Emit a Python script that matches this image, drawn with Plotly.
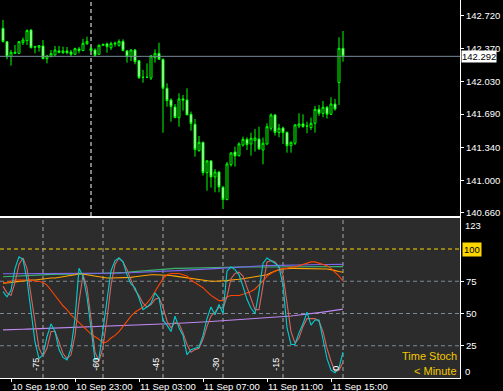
import plotly.graph_objects as go

# ---------------- data ----------------
bars = list(range(86))  # M15 bars, last bar = 11 Sep 15:45

opens = [142.584, 142.445, 142.289, 142.323, 142.323, 142.434, 142.455, 142.566, 142.386, 142.386,
         142.400, 142.268, 142.289, 142.306, 142.348, 142.330, 142.348, 142.337, 142.313, 142.368,
         142.351, 142.424, 142.375, 142.358, 142.313, 142.407, 142.421, 142.382, 142.421, 142.407,
         142.448, 142.348, 142.289, 142.358, 142.247, 142.073, 142.073, 142.066, 142.278, 142.323,
         142.261, 141.959, 141.837, 141.764, 141.653, 141.848, 141.837, 141.688, 141.584, 141.309,
         141.396, 141.080, 141.202, 141.035, 141.087, 140.927, 140.799, 141.163, 141.295, 141.257,
         141.368, 141.427, 141.379, 141.413, 141.431, 141.316, 141.379, 141.542, 141.681, 141.497,
         141.545, 141.500, 141.361, 141.386, 141.566, 141.587, 141.566, 141.549, 141.594, 141.740,
         141.698, 141.761, 141.688, 141.795, 142.018, 142.375]
highs = [142.671, 142.452, 142.358, 142.410, 142.452, 142.487, 142.573, 142.573, 142.400, 142.410,
         142.462, 142.306, 142.358, 142.400, 142.400, 142.393, 142.389, 142.358, 142.382, 142.389,
         142.473, 142.497, 142.393, 142.375, 142.417, 142.421, 142.434, 142.445, 142.445, 142.469,
         142.469, 142.358, 142.365, 142.368, 142.254, 142.150, 142.219, 142.306, 142.365, 142.434,
         142.268, 142.011, 141.854, 141.795, 141.907, 141.889, 141.959, 141.716, 141.639, 141.462,
         141.403, 141.212, 141.212, 141.118, 141.094, 140.941, 141.191, 141.295, 141.351, 141.396,
         141.455, 141.448, 141.497, 141.535, 141.559, 141.445, 141.594, 141.698, 141.691, 141.587,
         141.559, 141.507, 141.403, 141.587, 141.698, 141.688, 141.611, 141.653, 141.775, 141.785,
         141.827, 141.775, 141.865, 141.848, 142.490, 142.556]
lows = [142.438, 142.261, 142.195, 142.316, 142.316, 142.410, 142.410, 142.375, 142.323, 142.341,
        142.261, 142.219, 142.282, 142.299, 142.323, 142.316, 142.313, 142.289, 142.306, 142.323,
        142.348, 142.410, 142.351, 142.289, 142.306, 142.400, 142.330, 142.358, 142.393, 142.393,
        142.348, 142.226, 142.243, 142.209, 142.056, 142.018, 142.066, 142.045, 142.226, 142.254,
        141.497, 141.768, 141.611, 141.653, 141.559, 141.726, 141.681, 141.518, 141.247, 141.299,
        141.049, 140.892, 140.924, 140.875, 140.875, 140.701, 140.792, 141.143, 141.143, 141.247,
        141.351, 141.316, 141.257, 141.299, 141.316, 141.167, 141.368, 141.518, 141.466, 141.448,
        141.379, 141.288, 141.288, 141.368, 141.542, 141.549, 141.490, 141.524, 141.497, 141.671,
        141.657, 141.643, 141.681, 141.726, 141.785, 142.236]
closes = [142.445, 142.289, 142.334, 142.334, 142.445, 142.462, 142.560, 142.382, 142.393, 142.403,
          142.268, 142.296, 142.320, 142.358, 142.334, 142.348, 142.330, 142.313, 142.372, 142.351,
          142.428, 142.448, 142.351, 142.302, 142.407, 142.417, 142.393, 142.424, 142.428, 142.448,
          142.351, 142.289, 142.358, 142.236, 142.070, 142.073, 142.073, 142.296, 142.323, 142.261,
          141.959, 141.830, 141.768, 141.653, 141.848, 141.837, 141.681, 141.591, 141.320, 141.396,
          141.080, 141.202, 141.035, 141.087, 140.931, 140.799, 141.170, 141.285, 141.254, 141.379,
          141.427, 141.372, 141.438, 141.441, 141.327, 141.386, 141.559, 141.681, 141.500, 141.542,
          141.497, 141.361, 141.396, 141.577, 141.587, 141.559, 141.566, 141.594, 141.740, 141.698,
          141.761, 141.688, 141.795, 141.743, 142.375, 142.292]

stoch_fast = [67, 63, 68, 85, 94, 92, 76, 52, 28, 15, 18, 32, 42, 36, 22, 16, 14, 23, 46, 85,
              79, 63, 37, 14, 15, 37, 63, 83, 91, 93,
              90, 80, 73, 70, 62, 53, 55, 58, 66, 62, 45, 41, 36, 48, 39, 33, 18, 22, 23, 24,
              33, 46, 55, 49, 57, 50, 83, 86,
              84, 80, 71, 61, 54, 50, 67, 89, 93, 91, 89, 86, 72, 39, 26, 26, 35, 42, 51, 41,
              45, 45, 31, 15, 6, 4, 8, 20]
stoch_slow = [71, 66, 64, 74, 88, 93, 85, 64, 41, 23, 17, 23, 36, 36, 28, 19, 15, 18, 33, 59,
              80, 70, 46, 20, 13, 24, 46, 72, 88, 93,
              90, 84, 76, 68, 64, 58, 55, 57, 61, 62, 55, 44, 39, 43, 42, 35, 26, 20, 22, 23,
              30, 40, 48, 51, 55, 54, 63, 77,
              81, 82, 79, 70, 61, 53, 53, 72, 90, 91, 90, 86, 80, 58, 36, 27, 31, 40, 46, 46,
              46, 44, 36, 23, 13, 5, 6, 12]
stoch_hour = [74, 74, 75, 76, 76, 76, 76, 76, 75, 75, 74, 72, 68, 64, 60, 56, 53, 49, 46, 43,
              40, 37, 34, 32, 30, 27, 28, 31, 33, 36,
              40, 44, 48, 51, 53, 55, 58, 62, 67, 72, 77, 80, 81, 81, 81, 80, 79, 76, 74, 72,
              70, 67, 64, 62, 60, 60, 63, 64,
              64, 64, 65, 66, 67, 69, 72, 75, 79, 81, 83, 84, 85, 85, 86, 86, 87, 88, 89, 90,
              90, 89, 88, 87, 85, 82, 79, 75]
stoch_h4 = [73.5, 73.5, 74, 74.5, 75, 75.5, 76, 76, 76, 76.5, 77, 77, 77.5, 77.5, 78, 78, 78.5, 79, 80, 81,
            80.5, 79.5, 79, 78.5, 78, 77.5, 77.5, 77.5, 77.5, 77.5, 77.5, 78, 78, 78.5, 79, 79.5, 80, 80, 80, 80,
            80, 79.5, 79.5, 79, 78.5, 78, 77.5, 77, 76.5, 76, 75.5, 75.5, 75, 75, 75, 75, 75.5, 76, 76, 76.5,
            77, 77.5, 78, 78.5, 79, 79.5, 80, 81.5, 83, 84, 84.5, 85, 85, 85, 85, 85, 85, 85, 85, 85,
            84.5, 84.5, 84, 83, 82.5, 82]
stoch_day = [78.5, 78.7, 78.9, 79.1, 79.3, 79.5, 79.7, 79.9, 80.0, 80.0, 80.1, 80.1, 80.2, 80.2, 80.3, 80.3,
             80.4, 80.4, 80.5, 80.6, 80.6, 80.7, 80.8, 80.9, 81.0, 81.0, 81.1, 81.2, 81.3, 81.3,
             81.6, 82.0, 82.3, 82.6, 82.9, 83.2, 83.5, 83.8, 84.1, 84.4, 84.7, 84.8, 84.9, 85.0, 85.0, 85.1,
             85.2, 85.2, 85.3, 85.4, 85.4, 85.5, 85.6, 85.7, 85.8, 85.9, 86.0,
             86.0, 86.0, 86.0, 86.0, 86.1, 86.1, 86.1, 86.1, 86.1, 86.1, 86.1, 86.2, 86.2, 86.2, 86.2,
             86.2, 86.2, 86.2, 86.2, 86.3, 86.3, 86.3, 86.3, 86.3, 86.3, 86.3, 86.3, 86.3, 86.3]
stoch_week = [80.8, 80.8, 80.8, 80.8, 80.9, 80.9, 80.9, 80.9, 81.0, 81.0, 81.0, 81.0, 81.0, 81.0, 81.1,
              81.1, 81.1, 81.1, 81.1, 81.1, 81.2, 81.2, 81.2, 81.2, 81.2, 81.2, 81.3, 81.3, 81.3, 81.3,
              81.4, 81.5, 81.6, 81.7, 81.8, 81.9, 82.0, 82.1, 82.3, 82.4, 82.6, 82.8, 83.0, 83.1, 83.3,
              83.4, 83.6, 83.7, 83.9, 84.0, 84.2, 84.4, 84.6, 84.8, 85.0, 85.2, 85.5,
              85.8, 86.1, 86.3, 86.5, 86.6, 86.7, 86.8, 86.9, 87.0, 87.1, 87.2, 87.3, 87.4, 87.5, 87.6,
              87.7, 87.8, 87.8, 87.8, 87.9, 87.9, 87.9, 88.0, 88.0, 88.0, 88.0, 88.0, 88.1, 88.1]
stoch_month = [37.3, 37.3, 37.3, 37.5, 37.8, 37.8, 37.9, 38.0, 38.1, 38.2,
               38.3, 38.4, 38.5, 38.6, 38.7, 38.8, 38.9, 39.0, 39.1, 39.3,
               39.4, 39.5, 39.7, 39.9, 40.0, 40.1, 40.2, 40.4, 40.5, 40.7,
               40.7, 40.8, 40.9, 41.0, 41.0, 41.1, 41.2, 41.4, 41.6, 41.7,
               41.8, 42.0, 42.1, 42.2, 42.4, 42.5, 42.7, 42.9, 43.0, 43.2,
               43.4, 43.6, 43.8, 44.0, 44.1, 44.2, 44.3, 44.5, 44.7, 44.9,
               45.1, 45.4, 45.6, 45.8, 46.1, 46.4, 46.6, 46.9, 47.1, 47.4,
               47.6, 47.9, 48.1, 48.4, 48.7, 49.1, 49.5, 49.9, 50.3, 50.7,
               51.1, 51.5, 52.0, 52.4, 52.9, 53.4]

time_ticks = [2, 18, 34, 50, 66, 82]
time_labels = ["10 Sep 19:00", "10 Sep 23:00", "11 Sep 03:00", "11 Sep 07:00", "11 Sep 11:00", "11 Sep 15:00"]
price_ticks = [142.720, 142.370, 142.030, 141.690, 141.340, 141.000, 140.660]
last_price = 142.292
stoch_levels = [25, 50, 75]
stoch_top_level = 100
minute_marks = [10, 25, 40, 55, 70, 85]
minute_labels = ["-75", "-60", "-45", "-30", "-15", "0"]
day_separator = 22

# ---------------- figure ----------------
FONT = "Liberation Sans, Arial, sans-serif"
W, H = 503, 391
PLOT_W, PLOT_H = 460, 378

fig = go.Figure()

fig.add_trace(go.Candlestick(
    x=bars, open=opens, high=highs, low=lows, close=closes,
    increasing=dict(line=dict(color="#00FF00", width=1), fillcolor="#000000"),
    decreasing=dict(line=dict(color="#00FF00", width=1), fillcolor="#FFFFFF"),
    whiskerwidth=0, xaxis="x", yaxis="y", showlegend=False, hoverinfo="skip"))

series = [
    (stoch_month, "#BF87F0"),
    (stoch_day, "#3CB371"),
    (stoch_week, "#7B68EE"),
    (stoch_h4, "#FFA500"),
    (stoch_hour, "#FF4500"),
    (stoch_slow, "#D9625E"),
    (stoch_fast, "#00CED1"),
]
for vals, col in series:
    fig.add_trace(go.Scatter(x=bars, y=vals, mode="lines", line=dict(color=col, width=1.1),
                             xaxis="x2", yaxis="y2", showlegend=False, hoverinfo="skip"))

x_range = [-0.75, 114.25]
tickfont = dict(family=FONT, size=9.5, color="white")

fig.update_layout(
    width=W, height=H, margin=dict(l=0, r=W - PLOT_W, t=0, b=H - PLOT_H, autoexpand=False),
    paper_bgcolor="black", plot_bgcolor="black", showlegend=False,
    xaxis=dict(domain=[0, 1], range=x_range, anchor="y", showgrid=False, zeroline=False,
               showticklabels=False, ticks="", showline=True, linecolor="white", linewidth=1,
               rangeslider=dict(visible=False), automargin=False),
    yaxis=dict(domain=[(PLOT_H - 216) / PLOT_H, 1], range=[140.628, 142.879], side="right", anchor="x",
               showgrid=False, zeroline=False, tickvals=price_ticks,
               ticktext=[f"{v:.3f}" for v in price_ticks], ticks="outside", ticklen=3,
               tickcolor="white", showline=True, linecolor="white", linewidth=1, tickfont=tickfont,
               automargin=False),
    xaxis2=dict(domain=[0, 1], range=x_range, matches="x", anchor="y2", showgrid=False, zeroline=False,
                showline=True, mirror=True, linecolor="white", linewidth=1, ticks="outside", ticklen=3,
                tickcolor="white", tickvals=time_ticks, ticktext=time_labels, tickangle=0,
                ticklabelposition="outside right", tickfont=tickfont, automargin=False),
    yaxis2=dict(domain=[0, (PLOT_H - 218) / PLOT_H], range=[0, 124.03], side="right", anchor="x2",
                showgrid=False, zeroline=False, tickvals=stoch_levels,
                ticktext=[str(v) for v in stoch_levels], ticks="outside", ticklen=3, tickcolor="white",
                showline=True, linecolor="white", linewidth=1, tickfont=tickfont, automargin=False),
)

shapes = []
# indicator background
shapes.append(dict(type="rect", xref="x2 domain", yref="y2 domain", x0=0, x1=1, y0=0, y1=1,
                   fillcolor="#2C2C2C", line=dict(width=0), layer="below"))
for lv in stoch_levels:
    shapes.append(dict(type="line", xref="x2 domain", yref="y2", x0=0, x1=1, y0=lv, y1=lv,
                       line=dict(color="#7D8A96", width=1, dash="4px,3px"), layer="below"))
shapes.append(dict(type="line", xref="x2 domain", yref="y2", x0=0, x1=1, y0=stoch_top_level,
                   y1=stoch_top_level, line=dict(color="#FFD700", width=1, dash="4px,3px"), layer="below"))
for m in minute_marks:
    shapes.append(dict(type="line", xref="x2", yref="y2 domain", x0=m, x1=m, y0=0, y1=1,
                       line=dict(color="#A8A8A8", width=1, dash="4px,3px"), layer="below"))
shapes.append(dict(type="line", xref="x", yref="y domain", x0=day_separator, x1=day_separator, y0=0, y1=1,
                   line=dict(color="white", width=1, dash="4px,3px"), layer="below"))
shapes.append(dict(type="line", xref="x domain", yref="y", x0=0, x1=1, y0=last_price, y1=last_price,
                   line=dict(color="#778899", width=1), layer="above"))
fig.update_layout(shapes=shapes)

ann = []
ann.append(dict(xref="paper", yref="y", x=461 / PLOT_W, y=last_price, xanchor="left", yanchor="middle",
                text=f"{last_price:.3f}", showarrow=False, bgcolor="white", borderpad=0,
                font=dict(family=FONT, size=9.5, color="black")))
ann.append(dict(xref="paper", yref="y2", x=462 / PLOT_W, y=stoch_top_level, xanchor="left", yanchor="middle",
                text=str(stoch_top_level), showarrow=False, bgcolor="#FFD700", borderpad=1,
                font=dict(family=FONT, size=9.5, color="black")))
ann.append(dict(xref="paper", yref="y2", x=463 / PLOT_W, y=118.4, xanchor="left", yanchor="middle",
                text="123", showarrow=False, font=tickfont))
ann.append(dict(xref="paper", yref="y2", x=463 / PLOT_W, y=5.4, xanchor="left", yanchor="middle",
                text="0", showarrow=False, font=tickfont))
for m, lab in zip(minute_marks, minute_labels):
    ann.append(dict(xref="x2", yref="y2", x=m - 1.7, y=3.9, xanchor="center", yanchor="bottom",
                    text=lab, textangle=-90, showarrow=False,
                    font=dict(family=FONT, size=9, color="white")))
ann.append(dict(xref="paper", yref="y2", x=459 / PLOT_W, y=17.0, xanchor="right", yanchor="middle",
                text="Time Stoch", showarrow=False, font=dict(family=FONT, size=11, color="#F2C800")))
ann.append(dict(xref="paper", yref="y2", x=459 / PLOT_W, y=5.7, xanchor="right", yanchor="middle",
                text="< Minute", showarrow=False, font=dict(family=FONT, size=11, color="#F2C800")))
fig.update_layout(annotations=ann)

fig.write_html("out.html")
